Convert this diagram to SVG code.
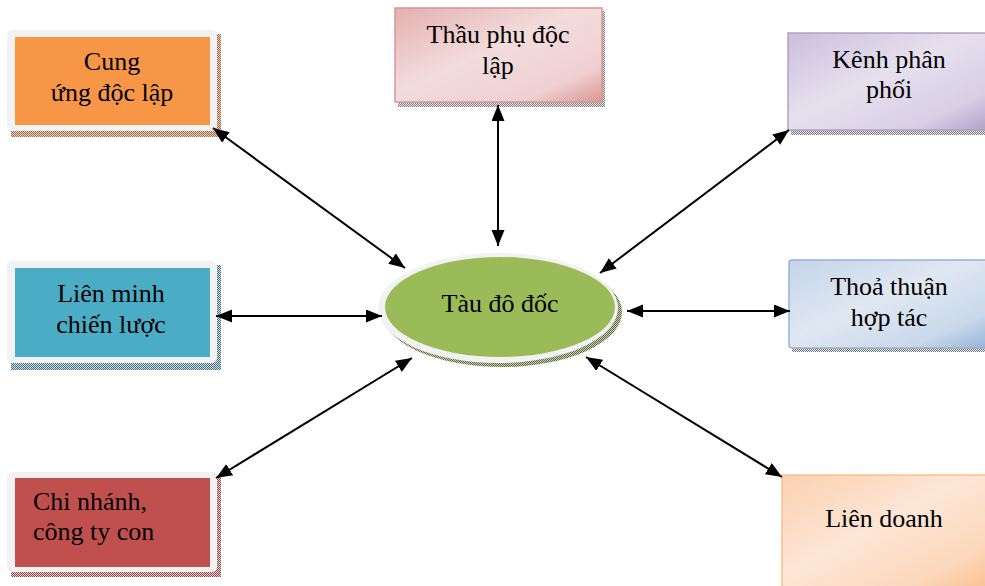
<svg xmlns="http://www.w3.org/2000/svg" width="985" height="586" viewBox="0 0 985 586">
<style>
  text { font-family: "Liberation Serif", "DejaVu Serif", "Times New Roman", serif; font-size: 26px; fill: #000; }
  .c { text-anchor: middle; }
  .conn line { stroke: #000; stroke-width: 2; marker-start: url(#ah); marker-end: url(#ah); }
  .frame { fill: #f2f2f2; }
</style>
<defs>
  <marker id="ah" markerUnits="userSpaceOnUse" markerWidth="18" markerHeight="14" refX="16" refY="6.5" orient="auto-start-reverse">
    <path d="M0,0 L16,6.5 L0,13 z" fill="#000"/>
  </marker>
  <pattern id="shBrown" width="2" height="2" patternUnits="userSpaceOnUse">
    <rect width="2" height="2" fill="#e8d2c2"/><rect width="1" height="1" fill="#9a6a4a"/><rect x="1" y="1" width="1" height="1" fill="#9a6a4a"/>
  </pattern>
  <pattern id="shBlue" width="2" height="2" patternUnits="userSpaceOnUse">
    <rect width="2" height="2" fill="#d0dde2"/><rect width="1" height="1" fill="#4a7080"/><rect x="1" y="1" width="1" height="1" fill="#4a7080"/>
  </pattern>
  <pattern id="shRed" width="2" height="2" patternUnits="userSpaceOnUse">
    <rect width="2" height="2" fill="#e8d0d0"/><rect width="1" height="1" fill="#8a4a4a"/><rect x="1" y="1" width="1" height="1" fill="#8a4a4a"/>
  </pattern>
  <pattern id="shGray" width="2" height="2" patternUnits="userSpaceOnUse">
    <rect width="2" height="2" fill="#e6e6e6"/><rect width="1" height="1" fill="#808080"/><rect x="1" y="1" width="1" height="1" fill="#808080"/>
  </pattern>
  <pattern id="shGreen" width="2" height="2" patternUnits="userSpaceOnUse">
    <rect width="2" height="2" fill="#c8d0b8"/><rect width="1" height="1" fill="#5f6a40"/><rect x="1" y="1" width="1" height="1" fill="#5f6a40"/>
  </pattern>
  <linearGradient id="gPink" x1="0" y1="0" x2="1" y2="1">
    <stop offset="0" stop-color="#e4b0b0"/><stop offset="0.45" stop-color="#f3dcdc"/><stop offset="0.8" stop-color="#f0d0d2"/><stop offset="1" stop-color="#d99694"/>
  </linearGradient>
  <linearGradient id="gPurple" x1="0" y1="0" x2="1" y2="1">
    <stop offset="0" stop-color="#cbbfdc"/><stop offset="0.45" stop-color="#e6e0ee"/><stop offset="0.8" stop-color="#d8cfe5"/><stop offset="1" stop-color="#b2a1c7"/>
  </linearGradient>
  <linearGradient id="gBlue" x1="0" y1="0" x2="1" y2="1">
    <stop offset="0" stop-color="#c4d4e8"/><stop offset="0.45" stop-color="#e0e8f2"/><stop offset="0.8" stop-color="#c9d8ea"/><stop offset="1" stop-color="#95b3d7"/>
  </linearGradient>
  <linearGradient id="gPeach" x1="0" y1="0" x2="1" y2="1">
    <stop offset="0" stop-color="#fbd0b0"/><stop offset="0.45" stop-color="#fde6d6"/><stop offset="0.8" stop-color="#fcd8bc"/><stop offset="1" stop-color="#fac090"/>
  </linearGradient>
</defs>
<rect width="985" height="586" fill="#fff"/>

<g id="cung-ung">
  <rect x="11" y="34" width="210" height="103" fill="url(#shBrown)"/>
  <rect x="7" y="30" width="210" height="101" rx="5" class="frame"/>
  <rect x="15" y="37" width="195" height="88" fill="#f79646"/>
  <text class="c" x="112" y="70" font-family="Liberation Serif, serif">Cung</text>
  <text class="c" x="112" y="101" font-family="Liberation Serif, serif">ứng độc lập</text>
</g>

<g id="thau-phu">
  <rect x="398" y="11" width="207" height="96" fill="url(#shGray)"/>
  <rect x="395" y="8" width="207" height="94" fill="url(#gPink)" stroke="#d99694" stroke-width="1.5"/>
  <text class="c" x="498" y="43" font-family="Liberation Serif, serif">Thầu phụ độc</text>
  <text class="c" x="498" y="74" font-family="Liberation Serif, serif">lập</text>
</g>

<g id="kenh-phan-phoi">
  <rect x="791" y="36" width="197" height="99" fill="url(#shGray)"/>
  <rect x="788" y="33" width="200" height="97" fill="url(#gPurple)" stroke="#b2a1c7" stroke-width="1.5"/>
  <text class="c" x="889" y="68" font-family="Liberation Serif, serif">Kênh phân</text>
  <text class="c" x="889" y="98" font-family="Liberation Serif, serif">phối</text>
</g>

<g id="lien-minh">
  <rect x="11" y="265" width="210" height="105" fill="url(#shBlue)"/>
  <rect x="7" y="261" width="210" height="102" rx="5" class="frame"/>
  <rect x="15" y="268" width="195" height="89" fill="#4bacc6"/>
  <text class="c" x="111" y="302" font-family="Liberation Serif, serif">Liên minh</text>
  <text class="c" x="111" y="333" font-family="Liberation Serif, serif">chiến lược</text>
</g>

<g id="tau-do-doc">
  <ellipse cx="502" cy="312" rx="120" ry="55" fill="url(#shGreen)"/>
  <ellipse cx="498" cy="308" rx="120" ry="55" fill="#f2f2f2"/>
  <ellipse cx="500" cy="307" rx="115" ry="50" fill="#9bbb59"/>
  <text class="c" x="500" y="312" font-family="Liberation Serif, serif">Tàu đô đốc</text>
</g>

<g id="thoa-thuan">
  <rect x="792" y="263" width="196" height="89" fill="url(#shGray)"/>
  <rect x="789" y="260" width="200" height="88" rx="3" fill="url(#gBlue)" stroke="#95b3d7" stroke-width="1.5"/>
  <text class="c" x="889" y="295" font-family="Liberation Serif, serif">Thoả thuận</text>
  <text class="c" x="889" y="326" font-family="Liberation Serif, serif">hợp tác</text>
</g>

<g id="chi-nhanh">
  <rect x="11" y="476" width="210" height="101" fill="url(#shRed)"/>
  <rect x="7" y="472" width="210" height="100" rx="5" class="frame"/>
  <rect x="15" y="478" width="195" height="89" fill="#c0504d"/>
  <text x="33" y="510" font-family="Liberation Serif, serif">Chi nhánh,</text>
  <text x="33" y="540" font-family="Liberation Serif, serif">công ty con</text>
</g>

<g id="lien-doanh">
  <rect x="782" y="475" width="210" height="112" fill="url(#gPeach)" stroke="#fac090" stroke-width="1.5"/>
  <text class="c" x="884" y="527" font-family="Liberation Serif, serif">Liên doanh</text>
</g>

<g class="conn" id="connectors">
  <line x1="213" y1="128" x2="405" y2="268"/>
  <line x1="498" y1="105" x2="498" y2="246"/>
  <line x1="789" y1="130" x2="600" y2="273"/>
  <line x1="216" y1="316" x2="382" y2="316"/>
  <line x1="627" y1="311" x2="790" y2="311"/>
  <line x1="412" y1="358" x2="216" y2="478"/>
  <line x1="586" y1="357" x2="782" y2="477"/>
</g>
</svg>
